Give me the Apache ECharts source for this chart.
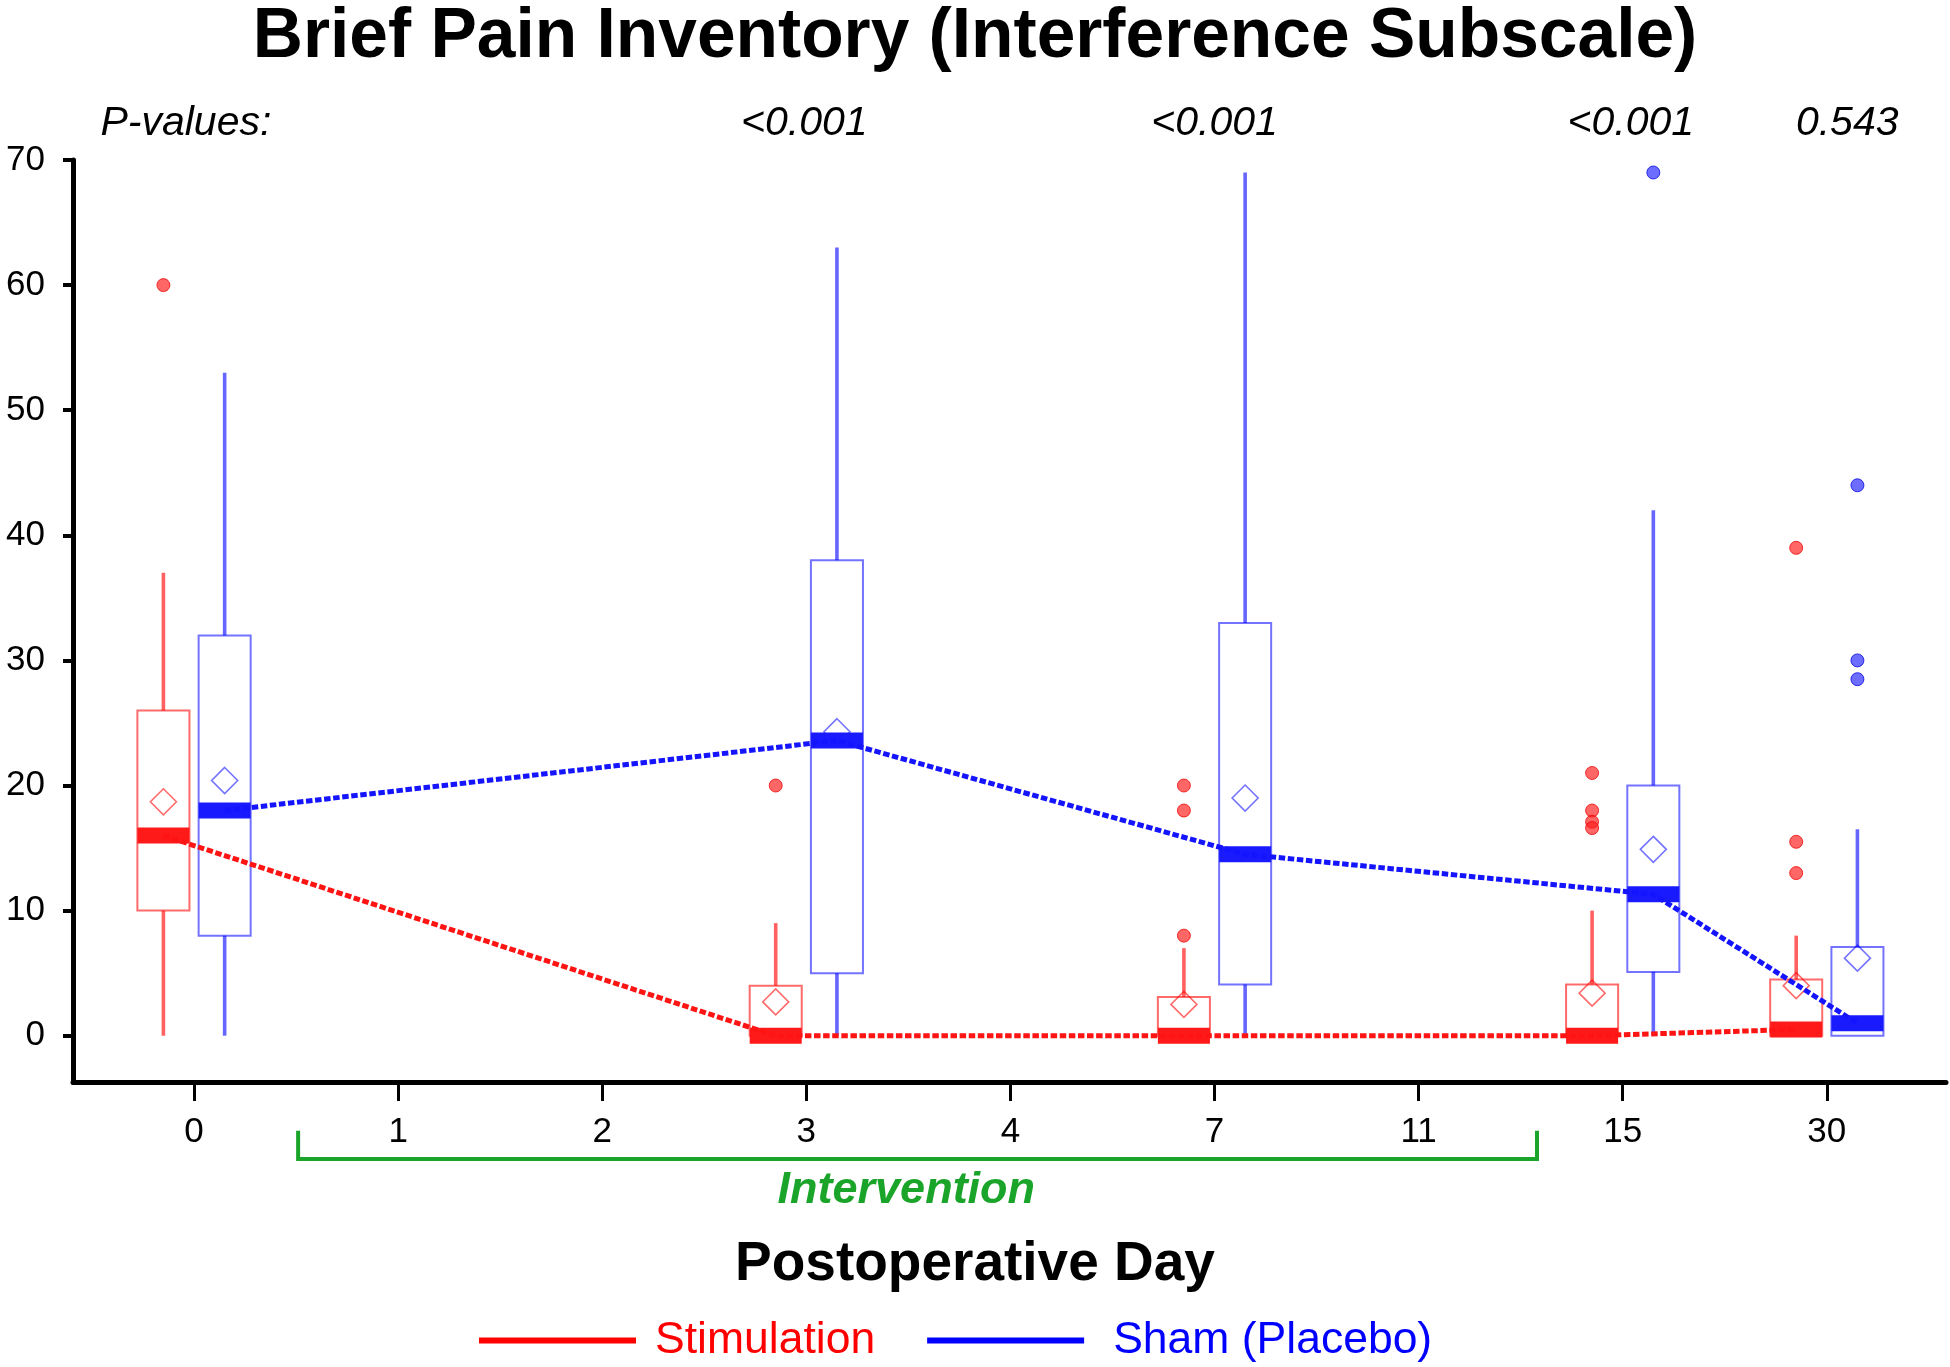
<!DOCTYPE html>
<html><head><meta charset="utf-8">
<script src="https://cdn.jsdelivr.net/npm/echarts@6/dist/echarts.min.js"></script>
<style>html,body{margin:0;padding:0;background:#fff}#c{width:1950px;height:1367px}</style>
</head><body><div id="c"></div>
<script>
// ---------- data ----------
const dayLabels = ['0', '1', '2', '3', '4', '7', '11', '15', '30'];
const yTicks = [0, 10, 20, 30, 40, 50, 60, 70];
// [category index, whisker low, Q1, median, Q3, whisker high, mean]
const stimBoxes = [
  [0, 0, 10, 16, 26, 37, 18.7],
  [3, 0, 0, 0, 4, 9, 2.7],
  [5, 0, 0, 0, 3.1, 7, 2.5],
  [7, 0, 0, 0, 4.1, 10, 3.4],
  [8, 0, 0, 0.5, 4.5, 8, 4.0]
];
const shamBoxes = [
  [0, 0, 8, 18, 32, 53, 20.4],
  [3, 0, 5, 23.6, 38, 63, 24.3],
  [5, 0, 4.1, 14.5, 33, 69, 19.0],
  [7, 0, 5.1, 11.3, 20, 42, 14.9],
  [8, 0, 0, 1.0, 7.1, 16.5, 6.2]
];
// [category index, value]
const stimOutliers = [[0, 60], [3, 20], [5, 8], [5, 18], [5, 20], [7, 21], [7, 18], [7, 17.1], [7, 16.6], [8, 39], [8, 15.5], [8, 13]];
const shamOutliers = [[7, 69], [8, 44], [8, 30], [8, 28.5]];
// p-value row: [category position, text]
const pValueRow = [[-0.04, 'P-values:'], [2.99, '<0.001'], [5.0, '<0.001'], [7.04, '<0.001'], [8.1, '0.543']];
const pValueLevel = 72.9;
const interventionSpan = [0.51, 6.58];
const interventionLabel = 'Intervention';
const interventionLabelPos = 3.49;

// ---------- layout constants ----------
const OFFSET = 0.15, BOX_W = 0.255;
const FONT = '"Liberation Sans", Arial, Helvetica, sans-serif';
const RED = {box: 'rgba(255,0,0,0.58)', whisker: 'rgba(255,0,0,0.62)', median: '#ff1a1a', line: '#ff1414', dot: 'rgba(255,30,30,0.68)', dotB: 'rgba(235,0,0,0.75)'};
const BLUE = {box: 'rgba(0,0,255,0.55)', whisker: 'rgba(0,0,255,0.6)', median: '#1a1aff', line: '#1414ff', dot: 'rgba(30,30,255,0.65)', dotB: 'rgba(0,0,230,0.75)'};

function boxRenderer(offset, col) {
  return function (params, api) {
    const c = api.value(0) + offset;
    const lo = api.value(1), q1 = api.value(2), med = api.value(3), q3 = api.value(4), hi = api.value(5), mean = api.value(6);
    const w = api.size([BOX_W, 0])[0];
    const pLo = api.coord([c, lo]), pQ1 = api.coord([c, q1]), pMed = api.coord([c, med]),
          pQ3 = api.coord([c, q3]), pHi = api.coord([c, hi]), pMean = api.coord([c, mean]);
    const x = pQ1[0];
    const ch = [];
    if (hi > q3) ch.push({type: 'line', shape: {x1: x, y1: pQ3[1], x2: x, y2: pHi[1]}, style: {stroke: col.whisker, lineWidth: 3.6}});
    if (q1 > lo) ch.push({type: 'line', shape: {x1: x, y1: pQ1[1], x2: x, y2: pLo[1]}, style: {stroke: col.whisker, lineWidth: 3.6}});
    ch.push({type: 'rect', shape: {x: x - w / 2, y: pQ3[1], width: w, height: pQ1[1] - pQ3[1]}, style: {fill: 'none', stroke: col.box, lineWidth: 2}});
    const d = 13;
    ch.push({type: 'polygon', shape: {points: [[x, pMean[1] - d], [x + d, pMean[1]], [x, pMean[1] + d], [x - d, pMean[1]]]}, style: {fill: 'none', stroke: col.box, lineWidth: 1.6}});
    ch.push({type: 'rect', shape: {x: x - w / 2, y: pMed[1] - 8, width: w, height: 16}, style: {fill: col.median}});
    return {type: 'group', children: ch};
  };
}

const chart = echarts.init(document.getElementById('c'), null, {renderer: 'canvas'});
chart.setOption({
  backgroundColor: '#ffffff',
  animation: false,
  title: [
    {text: 'Brief Pain Inventory (Interference Subscale)', left: 'center', top: -2,
     textStyle: {fontFamily: FONT, fontSize: 69.5, fontWeight: 'bold', color: '#000'}},
    {text: 'Postoperative Day', left: 'center', top: 1232,
     textStyle: {fontFamily: FONT, fontSize: 55, fontWeight: 'bold', color: '#000'}}
  ],
  legend: {
    left: 479, top: 1318, padding: 0, icon: 'rect', itemWidth: 157, itemHeight: 6, itemGap: 52,
    textStyle: {fontFamily: FONT, fontSize: 44.5, padding: [0, 0, 0, 14]},
    data: [
      {name: 'Stimulation', itemStyle: {color: '#ff0000'}, textStyle: {color: '#ff0000', padding: [0, 0, 0, 14]}},
      {name: 'Sham (Placebo)', itemStyle: {color: '#0000ff'}, textStyle: {color: '#0000ff', padding: [0, 0, 0, 24]}}
    ]
  },
  grid: {left: 73, right: 4, top: 160, bottom: 285},
  xAxis: {
    type: 'value', min: -0.593, max: 8.584,
    axisLine: {onZero: false, lineStyle: {color: '#000', width: 5}},
    axisTick: {customValues: dayLabels.map((_, i) => i), length: 19, lineStyle: {color: '#000', width: 3}},
    axisLabel: {customValues: dayLabels.map((_, i) => i), formatter: v => dayLabels[Math.round(v)],
      fontFamily: FONT, fontSize: 35, color: '#000', margin: 33},
    splitLine: {show: false}
  },
  yAxis: {
    type: 'value', min: -3.7, max: 70,
    axisLine: {show: true, onZero: false, lineStyle: {color: '#000', width: 5}},
    axisTick: {show: true, customValues: yTicks, length: 10, lineStyle: {color: '#000', width: 4}},
    axisLabel: {customValues: yTicks, fontFamily: FONT, fontSize: 35, color: '#000', margin: 28},
    splitLine: {show: false}
  },
  series: [
    {name: 'Stimulation', type: 'custom', renderItem: boxRenderer(-OFFSET, RED), data: stimBoxes, z: 2, clip: false},
    {name: 'Sham (Placebo)', type: 'custom', renderItem: boxRenderer(OFFSET, BLUE), data: shamBoxes, z: 2, clip: false},
    {name: 'Stimulation', type: 'scatter', symbol: 'circle', symbolSize: 13, z: 3,
     itemStyle: {color: RED.dot, borderColor: RED.dotB, borderWidth: 1, opacity: 1},
     data: stimOutliers.map(p => [p[0] - OFFSET, p[1]])},
    {name: 'Sham (Placebo)', type: 'scatter', symbol: 'circle', symbolSize: 13, z: 3,
     itemStyle: {color: BLUE.dot, borderColor: BLUE.dotB, borderWidth: 1, opacity: 1},
     data: shamOutliers.map(p => [p[0] + OFFSET, p[1]])},
    {name: 'Stimulation', type: 'line', symbol: 'none', z: 4, color: RED.line,
     lineStyle: {color: RED.line, width: 5, type: [6.5, 2.6]},
     data: stimBoxes.map(b => [b[0] - OFFSET, b[3]])},
    {name: 'Sham (Placebo)', type: 'line', symbol: 'none', z: 4, color: BLUE.line,
     lineStyle: {color: BLUE.line, width: 5, type: [6.5, 2.6]},
     data: shamBoxes.map(b => [b[0] + OFFSET, b[3]])},
    {type: 'custom', clip: false, silent: true, z: 5,
     data: pValueRow.map(p => [p[0], pValueLevel]),
     renderItem: function (params, api) {
       const p = api.coord([api.value(0), api.value(1)]);
       return {type: 'text', style: {text: pValueRow[params.dataIndex][1], x: p[0], y: p[1], align: 'center', verticalAlign: 'middle',
         fontFamily: FONT, fontSize: 41, fontStyle: 'italic', fill: '#000'}};
     }},
    {type: 'custom', clip: false, silent: true, z: 5,
     data: [[interventionSpan[0], interventionSpan[1], interventionLabelPos]],
     renderItem: function (params, api) {
       const a = api.coord([api.value(0), -7.6]), b = api.coord([api.value(0), -9.85]);
       const c = api.coord([api.value(1), -9.85]), d = api.coord([api.value(1), -7.6]);
       const m = api.coord([api.value(2), -12.4]);
       return {type: 'group', children: [
         {type: 'polyline', shape: {points: [a, b, c, d]}, style: {stroke: '#1aa52a', lineWidth: 4, fill: 'none'}},
         {type: 'text', style: {text: interventionLabel, x: m[0], y: m[1], align: 'center', verticalAlign: 'middle',
           fontFamily: FONT, fontSize: 45, fontStyle: 'italic', fontWeight: 'bold', fill: '#1aa52a'}}
       ]};
     }}
  ]
});
</script></body></html>
